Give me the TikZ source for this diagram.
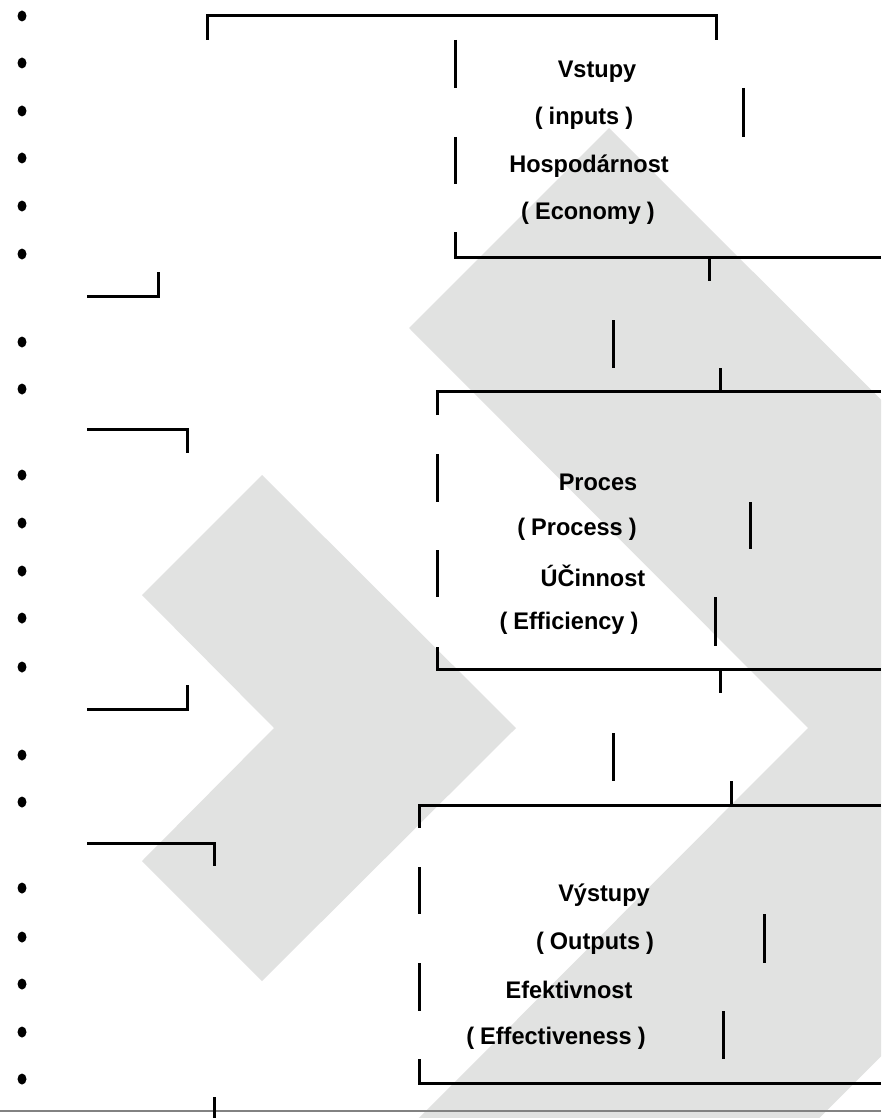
\documentclass[tikz,border=0pt]{standalone}
\usepackage{fontspec}
\newfontfamily\lab[FakeStretch=0.98]{Liberation Sans Bold}
\definecolor{chev}{RGB}{225,226,225}
\definecolor{baseln}{RGB}{130,130,130}
\begin{document}
\begin{tikzpicture}[x=1pt,y=-1pt,
  ln/.style={line width=3pt,black},
  lbl/.style={font=\lab\fontsize{24}{28}\selectfont,inner sep=0pt,anchor=center}]
\useasboundingbox (0,0) rectangle (881,1118);
\fill[white] (0,0) rectangle (881,1118);
% gray chevrons
\begin{scope}
\clip (0,0) rectangle (881,1118);
\fill[chev] (262,475) -- (516,728) -- (262,981) -- (142,861) -- (274,728) -- (142,595) -- cycle;
\fill[chev] (609,128) -- (1210,728) -- (609,1328) -- (409,1128) -- (808,728) -- (409,328) -- cycle;
\end{scope}
% bullets
\foreach \yy in {16,63,111,158,206,254,342,389,475,523,571,618,667,755,802,888,937,984,1032,1079}
  \fill (22,\yy) ellipse [x radius=4.5, y radius=5.5];
% block 1
\draw[ln] (207,40) -- (207,16) -- (716,16) -- (716,40);
\draw[ln] (455,40) -- (455,88);
\draw[ln] (743,88) -- (743,137);
\draw[ln] (455,137) -- (455,184);
\draw[ln] (455,232) -- (455,257) -- (881,257);
\draw[ln] (709,257) -- (709,281);
\draw[ln] (87,296) -- (158,296) -- (158,272);
\draw[ln] (613,320) -- (613,368);
\draw[ln] (720,368) -- (720,391);
% block 2
\draw[ln] (437,415) -- (437,391) -- (881,391);
\draw[ln] (87,429) -- (187,429) -- (187,453);
\draw[ln] (437,454) -- (437,502);
\draw[ln] (750,502) -- (750,549);
\draw[ln] (437,550) -- (437,597);
\draw[ln] (715,597) -- (715,646);
\draw[ln] (437,647) -- (437,669) -- (881,669);
\draw[ln] (720,669) -- (720,693);
\draw[ln] (187,685) -- (187,709) -- (87,709);
\draw[ln] (613,733) -- (613,781);
\draw[ln] (731,781) -- (731,805);
% block 3
\draw[ln] (419,828) -- (419,805) -- (881,805);
\draw[ln] (87,843) -- (214,843) -- (214,866);
\draw[ln] (419,867) -- (419,914);
\draw[ln] (764,914) -- (764,963);
\draw[ln] (419,963) -- (419,1011);
\draw[ln] (723,1011) -- (723,1059);
\draw[ln] (419,1059) -- (419,1083) -- (881,1083);
% base line
\draw[baseln,line width=2.5pt] (0,1111) -- (881,1111);
\draw[ln] (214,1097) -- (214,1118);
% labels
\node[lbl] (t1) at (597,72) {Vstupy};
\node[lbl] (t2) at (584,118) {(\hspace{0.25em}inputs\hspace{0.25em})};
\node[lbl] (t3) at (589,166) {Hospodárnost};
\node[lbl] (t4) at (588,213) {(\hspace{0.25em}Economy\hspace{0.25em})};
\node[lbl] (t5) at (598,482) {Proces};
\node[lbl] (t6) at (577,529) {(\hspace{0.25em}Process\hspace{0.25em})};
\node[lbl] (t7) at (593,576) {ÚČinnost};
\node[lbl] (t8) at (569,623) {(\hspace{0.25em}Efficiency\hspace{0.25em})};
\node[lbl] (t9) at (604,895) {Výstupy};
\node[lbl] (t10) at (595,943) {(\hspace{0.25em}Outputs\hspace{0.25em})};
\node[lbl] (t11) at (569,990) {Efektivnost};
\node[lbl] (t12) at (556,1038) {(\hspace{0.25em}Effectiveness\hspace{0.25em})};
\end{tikzpicture}
\end{document}
